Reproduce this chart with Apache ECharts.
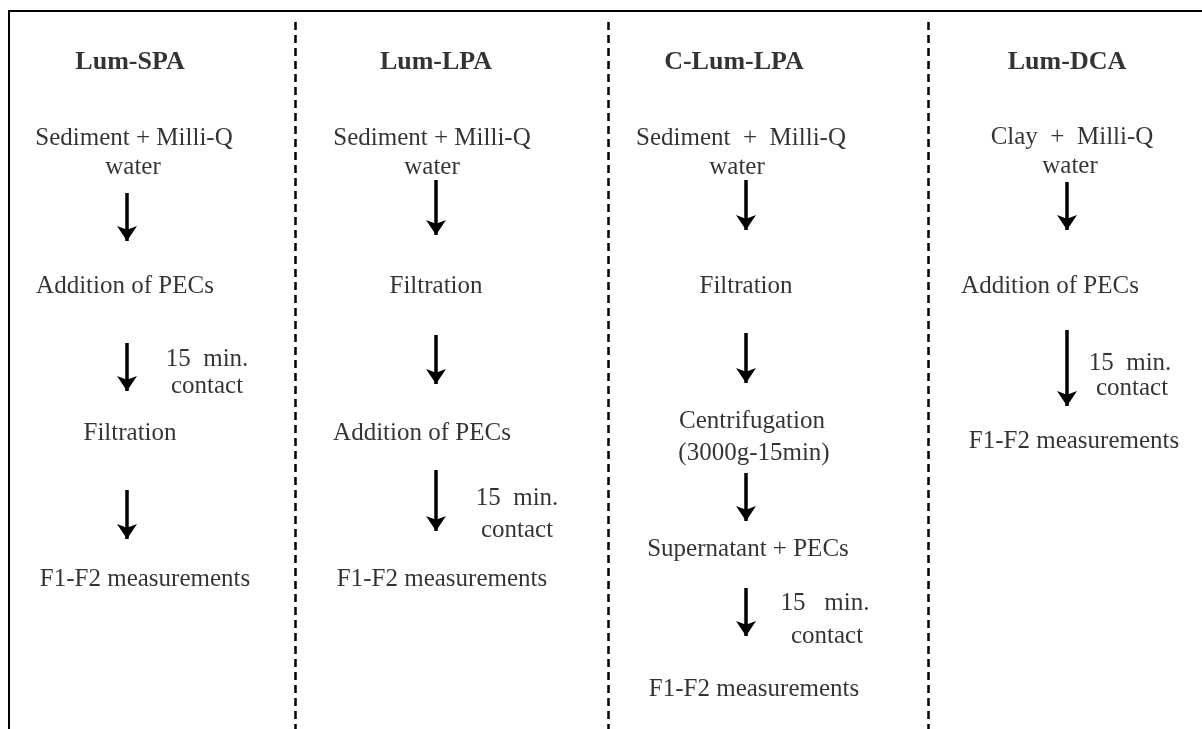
<!DOCTYPE html>
<html>
<head>
<meta charset="utf-8">
<script src="https://cdn.jsdelivr.net/npm/echarts@6/dist/echarts.min.js"></script>
<style>
  html, body { margin: 0; padding: 0; background: #fff; }
  #chart { width: 1202px; height: 729px; }
</style>
</head>
<body>
<div id="chart"></div>
<script>
// column headings
const titles = ["Lum-SPA", "Lum-LPA", "C-Lum-LPA", "Lum-DCA"];
const titleX = [130, 436, 734, 1067];
const titleY = [62, 62, 62, 62];

// step labels: [x, y, text]
const steps = [
  // Lum-SPA
  [134, 138, "Sediment + Milli-Q"],
  [133, 167, "water"],
  [125, 286, "Addition of PECs"],
  [130, 433, "Filtration"],
  [145, 579, "F1-F2 measurements"],
  // Lum-LPA
  [432, 138, "Sediment + Milli-Q"],
  [432, 167, "water"],
  [436, 286, "Filtration"],
  [422, 433, "Addition of PECs"],
  [442, 579, "F1-F2 measurements"],
  // C-Lum-LPA
  [741, 138, "Sediment  +  Milli-Q"],
  [737, 167, "water"],
  [746, 286, "Filtration"],
  [752, 421, "Centrifugation"],
  [754, 453, "(3000g-15min)"],
  [748, 549, "Supernatant + PECs"],
  [754, 689, "F1-F2 measurements"],
  // Lum-DCA
  [1072, 137, "Clay  +  Milli-Q"],
  [1070, 166, "water"],
  [1050, 286, "Addition of PECs"],
  [1074, 441, "F1-F2 measurements"]
];

// contact-time notes beside arrows: [x, y, text]
const notes = [
  [207, 359, "15  min."], [207, 386, "contact"],
  [517, 498, "15  min."], [517, 530, "contact"],
  [825, 603, "15   min."], [827, 636, "contact"],
  [1130, 363, "15  min."], [1132, 388, "contact"]
];

// arrows: [x, yStart, yEnd]
const arrows = [
  [127, 193, 243], [127, 343, 393], [127, 490, 541],
  [436, 180, 237], [436, 335, 386], [436, 470, 533],
  [746, 180, 232], [746, 333, 385], [746, 473, 523], [746, 588, 638],
  [1067, 182, 232], [1067, 330, 408]
];

// dashed column dividers
const dividerX = [295, 608, 928];
const dividerTop = 22;

var chart = echarts.init(document.getElementById("chart"));
var font = "'Liberation Serif', 'Times New Roman', serif";

function textItems(list) {
  return list.map(function(s) {
    return { value: [s[0], s[1]], name: s[2] };
  });
}

var option = {
  backgroundColor: "#fff",
  animation: false,
  grid: { left: 0, right: 0, top: 0, bottom: 0 },
  xAxis: { type: "value", min: 0, max: 1202, show: false },
  yAxis: { type: "value", min: 0, max: 729, inverse: true, show: false },
  series: [
    {
      // outer frame (top + left)
      type: "lines",
      coordinateSystem: "cartesian2d",
      polyline: true,
      silent: true,
      lineStyle: { color: "#000", width: 2, opacity: 1 },
      data: [{ coords: [[1202, 11], [9, 11], [9, 729]] }]
    },
    {
      type: "lines",
      coordinateSystem: "cartesian2d",
      silent: true,
      lineStyle: { color: "#000", width: 2.5, type: [8, 5], opacity: 1 },
      data: dividerX.map(function(x) {
        return { coords: [[x, dividerTop], [x, 729]] };
      })
    },
    {
      type: "lines",
      coordinateSystem: "cartesian2d",
      silent: true,
      symbol: ["none", "arrow"],
      symbolSize: [12, 15],
      lineStyle: { color: "#000", width: 3.5, opacity: 1 },
      data: arrows.map(function(a) {
        return { coords: [[a[0], a[1]], [a[0], a[2] - 2]] };
      })
    },
    {
      type: "scatter",
      symbolSize: 0,
      silent: true,
      label: {
        show: true,
        position: "inside",
        formatter: "{b}",
        color: "#000",
        fontFamily: font,
        fontSize: 26,
        fontWeight: "bold"
      },
      data: titles.map(function(t, i) {
        return { value: [titleX[i], titleY[i]], name: t };
      })
    },
    {
      type: "scatter",
      symbolSize: 0,
      silent: true,
      label: {
        show: true,
        position: "inside",
        formatter: "{b}",
        color: "#000",
        fontFamily: font,
        fontSize: 25
      },
      data: textItems(steps).concat(textItems(notes))
    }
  ]
};
chart.setOption(option);
window.addEventListener("resize", () => {
  chart.resize();
});
</script>
</body>
</html>
